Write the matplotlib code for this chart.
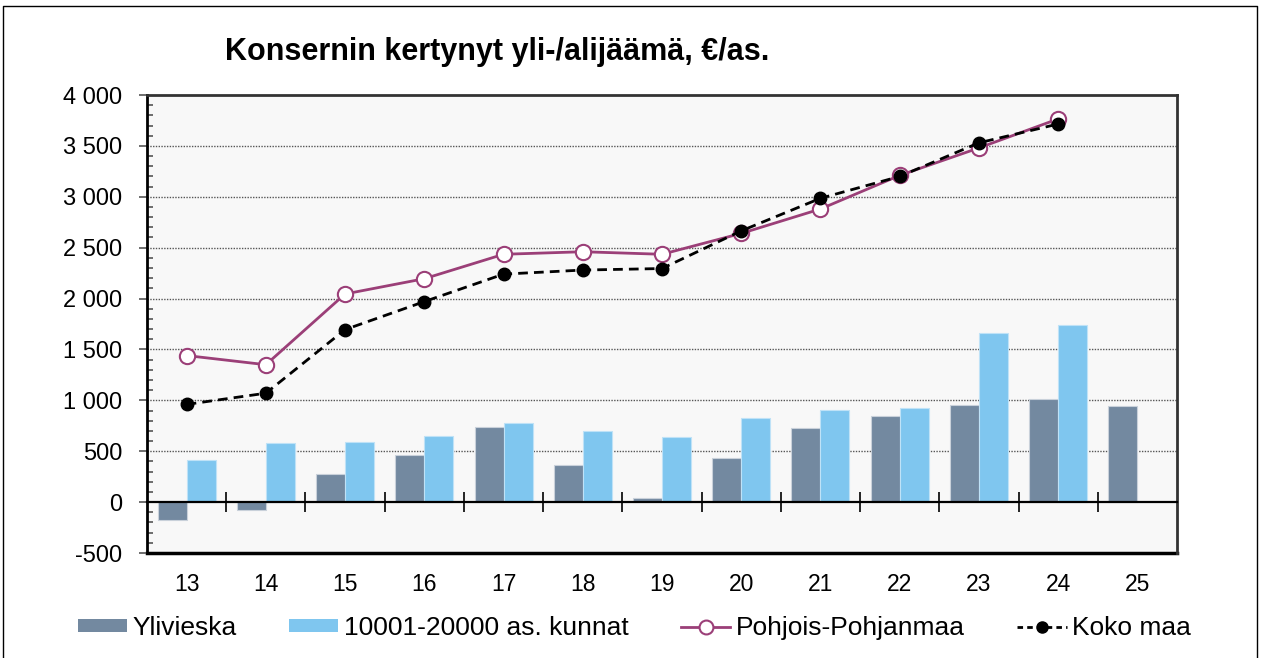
import matplotlib.pyplot as plt
import numpy as np
from matplotlib.ticker import FuncFormatter, MultipleLocator, FixedLocator
from matplotlib.lines import Line2D
from matplotlib.patches import Patch

plt.rcParams['font.family'] = ['Liberation Sans', 'DejaVu Sans']

years = ['13', '14', '15', '16', '17', '18', '19', '20', '21', '22', '23', '24', '25']
ylivieska = [-180, -80, 275, 465, 740, 365, 45, 430, 725, 850, 950, 1010, 940]
kunnat = [410, 585, 595, 650, 775, 695, 635, 830, 905, 920, 1665, 1745, np.nan]
pohjois = [1440, 1350, 2045, 2195, 2435, 2460, 2435, 2640, 2880, 3210, 3480, 3765]
koko = [960, 1070, 1695, 1970, 2240, 2280, 2295, 2665, 2985, 3200, 3530, 3715]

c_dark = '#7389a0'
c_light = '#7fc6ef'
c_purple = '#9b3f78'

fig = plt.figure(figsize=(12.61, 6.58), dpi=100)
ax = fig.add_axes([147/1261, 1 - 553/658, (1177-147)/1261, (553-95)/658])
ax.set_facecolor('#f8f8f8')

x = np.arange(len(years))
w = 0.366
ax.bar(x - w/2, ylivieska, w, color=c_dark, edgecolor='#c9d1da', linewidth=0.8, zorder=2)
ax.bar(x + w/2, kunnat, w, color=c_light, edgecolor='#bfe2f7', linewidth=0.8, zorder=2)

xl = x[:len(pohjois)]
ax.plot(xl, pohjois, color=c_purple, lw=2, marker='o', ms=11, mfc='white',
        mec=c_purple, mew=1.5, zorder=4)
ax.plot(xl, koko, color='black', lw=2, ls=(0, (3.5, 2.2)), marker='o', ms=9,
        mfc='black', mec='black', zorder=5)

ax.set_xlim(-0.5, 12.5)
ax.set_ylim(-500, 4000)

# dotted gridlines every 500 above zero
for v in range(500, 4000, 500):
    ax.axhline(v, color='#555555', lw=1, ls=(0, (1, 1)), zorder=1)

ax.yaxis.set_major_locator(MultipleLocator(500))
ax.yaxis.set_minor_locator(MultipleLocator(100))
ax.yaxis.set_major_formatter(FuncFormatter(
    lambda v, p: f'{int(v):,}'.replace(',', ' ')))
ax.tick_params(axis='y', which='major', direction='out', length=6, width=1.2,
               labelsize=17, pad=12, color='#555555')
ax.tick_params(axis='y', which='minor', direction='in', length=4, width=1.2,
               color='#555555')

# category boundary ticks sit on the zero line
ax.spines['bottom'].set_position(('data', 0))
ax.spines['bottom'].set_linewidth(1.6)
ax.xaxis.set_major_locator(FixedLocator(np.arange(0.5, 12, 1)))
ax.tick_params(axis='x', which='major', direction='inout', length=14, width=1.2,
               labelbottom=False)

for s in ['left', 'top', 'right']:
    ax.spines[s].set_linewidth(2)
ax.spines['top'].set_color('#333333')
ax.spines['right'].set_color('#333333')

sec = ax.secondary_xaxis(0.0)
sec.set_xticks(x)
sec.set_xticklabels(years)
sec.tick_params(axis='x', length=0, labelsize=16.5, pad=14.5)
sec.spines['bottom'].set_linewidth(2.5)

fig.text(225/1261, 1 - 52/658, 'Konsernin kertynyt yli-/alijäämä, €/as.',
         fontsize=22, fontweight='bold', ha='left', va='center')

handles = [
    Patch(facecolor=c_dark, edgecolor='none'),
    Patch(facecolor=c_light, edgecolor='none'),
    Line2D([], [], color=c_purple, lw=2, marker='o', ms=10, mfc='white', mec=c_purple, mew=1.5),
    Line2D([], [], color='black', lw=2, ls=(0, (2, 1.5)), marker='o', ms=8, mfc='black'),
]
labels = ['Ylivieska', '10001-20000 as. kunnat', 'Pohjois-Pohjanmaa', 'Koko maa']
fig.legend(handles, labels, loc='center left', bbox_to_anchor=(78/1261, 1 - 628/658),
           ncol=4, frameon=False, fontsize=19, handlelength=1.86, handleheight=0.42,
           handletextpad=0.2, columnspacing=2.0, borderpad=0, borderaxespad=0)

# outer frame
fig.add_artist(plt.Line2D([3/1261, 3/1261, 1257/1261, 1257/1261], [0, 1 - 6/658, 1 - 6/658, 0],
                          transform=fig.transFigure, color='black', lw=1))

fig.savefig('out.png', dpi=100)
